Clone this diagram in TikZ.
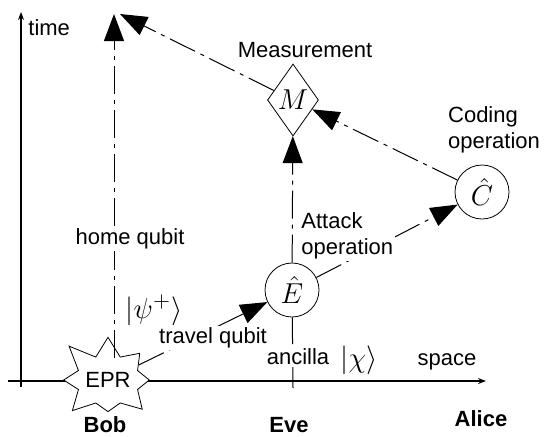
\documentclass[tikz,border=0pt]{standalone}
\usepackage{fontspec}
\setmainfont{Liberation Sans}
\usepackage{tikz}
\usetikzlibrary{shapes,arrows.meta}

\begin{document}
\begin{tikzpicture}[
    x=0.5pt, y=-0.5pt,
    axis/.style={-{Stealth[length=4pt,width=3pt]}, line width=0.6pt},
    qline/.style={line width=0.5pt, dash pattern=on 14pt off 3pt on 2pt off 3pt},
    qarrow/.style={qline, -{Triangle[length=13.5pt,width=10pt]}},
    op/.style={circle, draw, fill=white, minimum size=27pt, inner sep=0pt, font=\fontsize{15}{18}\selectfont},
    txt/.style={inner sep=1pt, font=\fontsize{11}{13}\selectfont},
    lbl/.style={txt, fill=white},
    party/.style={font=\fontsize{11}{13}\selectfont\bfseries},
    ket/.style={inner sep=0pt, font=\fontsize{15}{18}\selectfont}
]
\useasboundingbox (0,0) rectangle (544,436);

% axes
\draw[axis] (8,381) -- (486,381);
\draw[axis] (21,387) -- (21,12);

\node[starburst, draw, fill=white, starburst points=8, starburst point height=12pt,
      random starburst=11, inner xsep=0pt, inner ysep=5pt,
      font=\fontsize{11}{13}\selectfont] (EPR) at (108,380) {EPR};
\node[op] (E) at (292,290) {$\hat{E}$};
\node[op] (C) at (482,192) {$\hat{C}$};
\node[diamond, draw, fill=white, inner sep=0pt, minimum width=25.5pt, minimum height=36pt,
      font=\fontsize{15}{18}\selectfont] (M) at (293,100) {$M$};

\coordinate (bobtop) at (114,14);
\coordinate (bobfoot) at (114,358);
\coordinate (evefoot) at (293,388);

\draw[qarrow] (bobfoot) -- (bobtop);
\draw[qline] (evefoot) -- (E);
\draw[qarrow] (E) -- (M);
\draw[qarrow] (EPR) -- (E);
\draw[qarrow] (E) -- (C);
\draw[qarrow] (C) -- (M);
\draw[qarrow] (M) -- ([xshift=3pt]bobtop);

% labels
\node[txt, anchor=west] (timelbl) at (26,28) {time};
\node[txt] (spacelbl) at (447,362) {space};
\node[txt] (meas) at (305,50) {Measurement};
\node[txt, align=left] (coding) at (494,130) {Coding\\operation};
\node[lbl, align=left, anchor=west] (attack) at (299,236) {Attack\\operation};
\node[lbl] (home) at (130,239) {home qubit};
\node[lbl] (travel) at (213,338) {travel qubit};
\node[lbl] (ancilla) at (298,357) {ancilla};
\node[ket] (psi) at (154,310) {$|\psi^+\rangle$};
\node[ket] (chi) at (359,360) {$|\chi\rangle$};
\node[party] (bob) at (105,425) {Bob};
\node[party] (eve) at (289,425) {Eve};
\node[party] (alice) at (481,419) {Alice};

\end{tikzpicture}
\end{document}
